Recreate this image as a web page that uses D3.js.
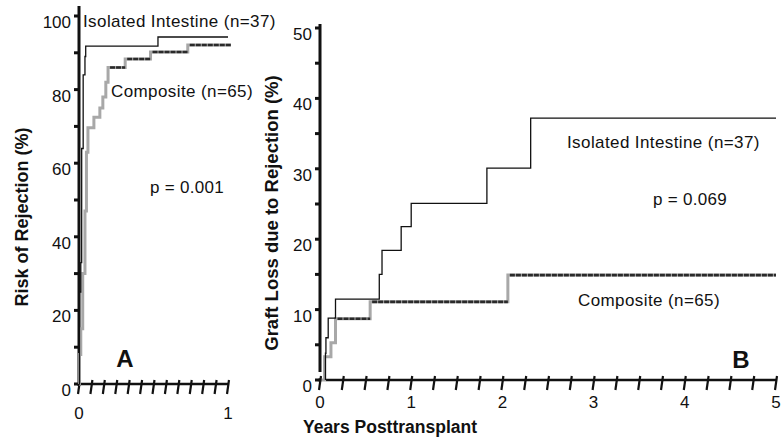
<!DOCTYPE html>
<html>
<head>
<meta charset="utf-8">
<script src="https://cdn.jsdelivr.net/npm/d3@7"></script>
<style>
  body { margin: 0; background: #fff; }
  svg { display: block; }
  text { font-family: Arial, "Liberation Sans", sans-serif; fill: #111; }
</style>
</head>
<body>
<div id="chart"></div>
<script>
//chart size
var outerWidth = 782;
var outerHeight = 447;

//panel A data (risk of rejection, years)
var isoA_t = [0, 0.003, 0.012, 0.018, 0.028, 0.04, 0.045, 0.53, 1.0];
var isoA_v = [0, 25, 33, 64, 84, 89, 91.8, 94.3, 94.3];
var compA_t = [0, 0.003, 0.012, 0.025, 0.04, 0.05, 0.06, 0.1, 0.14, 0.16, 0.18, 0.195, 0.31, 0.48, 0.73, 1.02];
var compA_v = [0, 8, 15, 30, 47, 63, 69.6, 72.5, 75, 78, 82, 86, 88.3, 90.2, 92.1, 92.1];

//panel B data (graft loss due to rejection, years)
var isoB_t = [0.06, 0.06, 0.065, 0.09, 0.17, 0.65, 0.68, 0.89, 1.0, 1.83, 2.31, 5];
var isoB_v = [0, 3.8, 6.0, 8.8, 11.5, 15.0, 18.4, 21.8, 25.1, 30.1, 37.2, 37.2];
var compB_t = [0.02, 0.05, 0.12, 0.17, 0.55, 2.06, 5];
var compB_v = [0, 3.3, 5.3, 8.7, 11.1, 14.9, 14.9];

//tick values
var yTicksA = [0, 20, 40, 60, 80, 100];
var yMinorA = [10, 30, 50, 70, 90];
var xTicksA = d3.range(0, 13).map(function (i) { return i / 12; });
var xLabelsA = [0, 1];
var yTicksB = [0, 10, 20, 30, 40, 50];
var yMinorB = [5, 15, 25, 35, 45];
var xTicksB = d3.range(0, 21).map(function (i) { return i / 4; });
var xLabelsB = [0, 1, 2, 3, 4, 5];

var svg = d3.select("#chart").append("svg")
    .attr("width", outerWidth)
    .attr("height", outerHeight);

//scales
var xA = d3.scaleLinear().domain([0, 1]).range([79, 228]);
var yA = d3.scaleLinear().domain([0, 100]).range([384, 16]);
var xB = d3.scaleLinear().domain([0, 5]).range([320, 776]);
var yB = d3.scaleLinear().domain([0, 50]).range([380, 28]);

function zip(t, v) {
    return t.map(function (d, i) { return [d, v[i]]; });
}

function drawPanel(x, y, yTicks, yMinor, xTicks, xLabels, yTop, xStart, yBottom, labelGap) {
    var g = svg.append("g");
    // y axis line
    g.append("line")
        .attr("x1", x(0)).attr("x2", x(0))
        .attr("y1", yTop).attr("y2", yBottom)
        .attr("stroke", "#111").attr("stroke-width", 3);
    // y ticks
    g.selectAll(".ymaj").data(yTicks.concat(yMinor)).enter().append("line")
        .attr("x1", x(0) - 5).attr("x2", x(0))
        .attr("y1", function (d) { return y(d); })
        .attr("y2", function (d) { return y(d); })
        .attr("stroke", "#111").attr("stroke-width", 3);
    g.selectAll(".ylab").data(yTicks).enter().append("text")
        .attr("x", x(0) - 8)
        .attr("y", function (d) { return y(d) + 12; })
        .attr("text-anchor", "end")
        .attr("font-size", "17px")
        .text(function (d) { return d; });
    // x axis line
    var y0 = y(0);
    g.append("line")
        .attr("x1", xStart).attr("x2", x.range()[1])
        .attr("y1", y0).attr("y2", y0)
        .attr("stroke", "#111").attr("stroke-width", 2.5);
    g.selectAll(".xt").data(xTicks).enter().append("line")
        .attr("x1", function (d) { return x(d) + 1; })
        .attr("x2", function (d) { return x(d) - 1; })
        .attr("y1", y0 - 4).attr("y2", y0 + 10)
        .attr("stroke", "#111").attr("stroke-width", 2.2);
    g.selectAll(".xlab").data(xLabels).enter().append("text")
        .attr("x", function (d) { return x(d); })
        .attr("y", y0 + labelGap)
        .attr("text-anchor", "middle")
        .attr("font-size", "17px")
        .text(function (d) { return d; });
    return g;
}

drawPanel(xA, yA, yTicksA, yMinorA, xTicksA, xLabelsA, 6, 79, 386, 35);
drawPanel(xB, yB, yTicksB, yMinorB, xTicksB, xLabelsB, 24, 326, 372, 28);
// dot at origin of B
svg.append("rect").attr("x", xB(0) - 1.5).attr("y", yB(0) - 1.5)
    .attr("width", 3).attr("height", 3).attr("fill", "#111");

function drawComposite(x, y, t, v) {
    var pts = zip(t, v);
    var line = d3.line()
        .x(function (d) { return x(d[0]); })
        .y(function (d) { return y(d[1]); })
        .curve(d3.curveStepAfter);
    svg.append("path").datum(pts)
        .attr("d", line)
        .attr("fill", "none")
        .attr("stroke", "#a8a8a8")
        .attr("stroke-width", 3);
    // darker horizontal runs
    var segs = pts.slice(0, -1).map(function (d, i) { return [d, [pts[i + 1][0], d[1]]]; })
        .filter(function (s) { return x(s[1][0]) - x(s[0][0]) > 8; });
    svg.selectAll(null).data(segs).enter().append("line")
        .attr("x1", function (s) { return x(s[0][0]) + 2; })
        .attr("x2", function (s) { return x(s[1][0]); })
        .attr("y1", function (s) { return y(s[0][1]); })
        .attr("y2", function (s) { return y(s[0][1]); })
        .attr("stroke", "#2a2a2a")
        .attr("stroke-width", 2.6)
        .attr("stroke-dasharray", "5,1");
}

function drawIsolated(x, y, t, v) {
    var line = d3.line()
        .x(function (d) { return x(d[0]); })
        .y(function (d) { return y(d[1]); })
        .curve(d3.curveStepAfter);
    svg.append("path").datum(zip(t, v))
        .attr("d", line)
        .attr("fill", "none")
        .attr("stroke", "#111")
        .attr("stroke-width", 1.3);
}

drawComposite(xA, yA, compA_t, compA_v);
drawIsolated(xA, yA, isoA_t, isoA_v);
drawComposite(xB, yB, compB_t, compB_v);
drawIsolated(xB, yB, isoB_t, isoB_v);

//labels
function label(x, y, txt, size, weight, anchor, spacing) {
    return svg.append("text")
        .attr("x", x).attr("y", y)
        .attr("font-size", size + "px")
        .attr("font-weight", weight || "normal")
        .attr("text-anchor", anchor || "start")
        .attr("letter-spacing", spacing || 0)
        .text(txt);
}

label(83, 27, "Isolated Intestine (n=37)", 17, null, "start", 0.4);
label(111, 97, "Composite (n=65)", 17, null, "start", 0.4);
label(150, 193, "p = 0.001", 17, null, "start", 0.3);
label(125, 367, "A", 24, "bold", "middle");

label(567, 148, "Isolated Intestine (n=37)", 17, null, "start", 0.4);
label(653, 205, "p = 0.069", 17, null, "start", 0.3);
label(578, 306, "Composite (n=65)", 17, null, "start", 0.4);
label(741, 368, "B", 24, "bold", "middle");

label(390, 433, "Years Posttransplant", 17.5, "bold", "middle");

svg.append("text")
    .attr("transform", "translate(28,217) rotate(-90)")
    .attr("text-anchor", "middle")
    .attr("font-size", "18px")
    .attr("font-weight", "bold")
    .text("Risk of Rejection (%)");

svg.append("text")
    .attr("transform", "translate(278,213) rotate(-90)")
    .attr("text-anchor", "middle")
    .attr("font-size", "18.5px")
    .attr("font-weight", "bold")
    .text("Graft Loss due to Rejection (%)");
</script>
</body>
</html>
